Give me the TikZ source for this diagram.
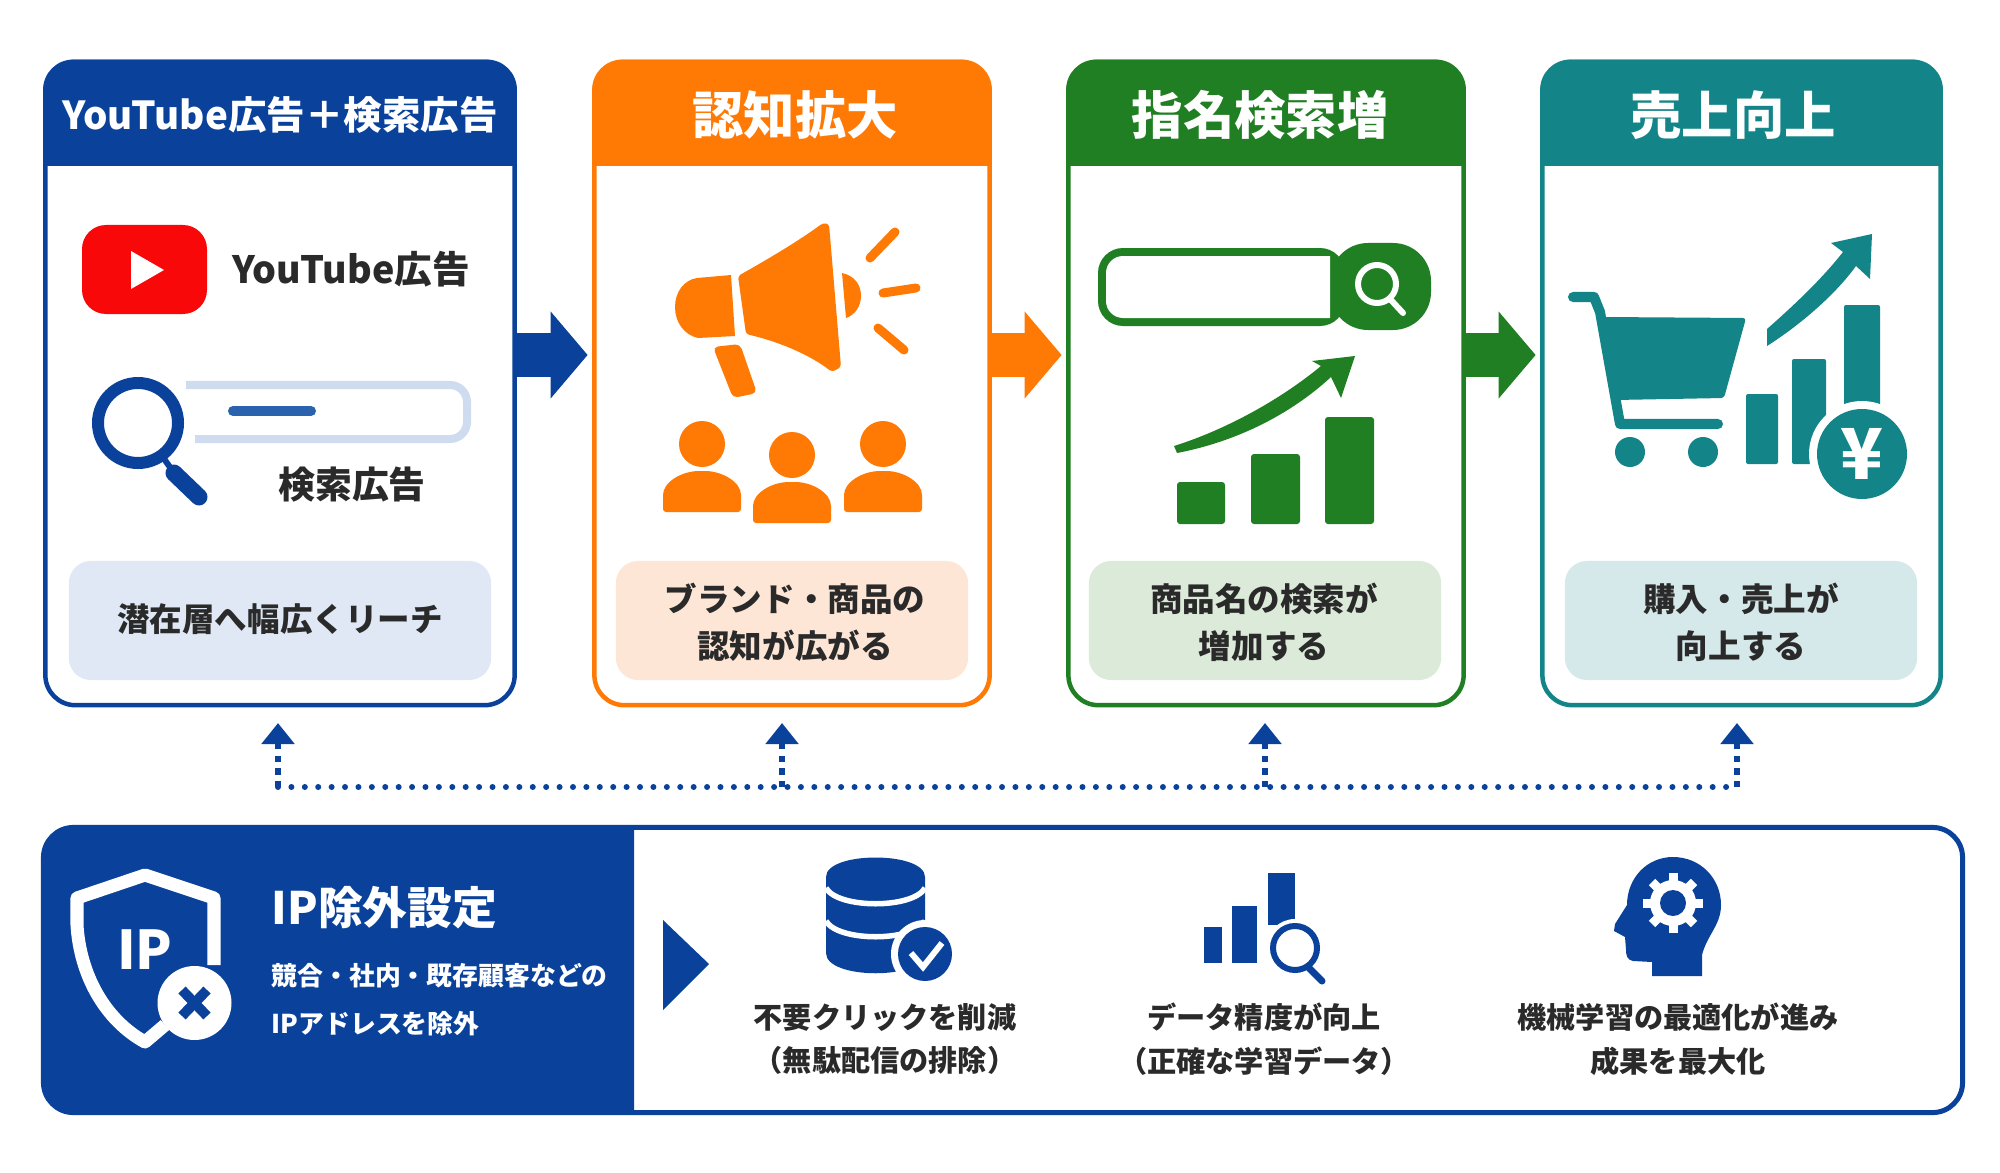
\documentclass[tikz,border=0pt]{standalone}
\usepackage{fontspec}
\setmainfont{Noto Sans CJK JP}
\usetikzlibrary{arrows.meta}
\definecolor{navy}{HTML}{0A429B}
\definecolor{orng}{HTML}{FF7A05}
\definecolor{grn}{HTML}{1F7F22}
\definecolor{teal2}{HTML}{138588}
\definecolor{ytred}{HTML}{F80808}
\definecolor{ink}{HTML}{2A2A2A}
\definecolor{paleblue}{HTML}{E0E8F6}
\definecolor{paleorng}{HTML}{FDE6D6}
\definecolor{palegrn}{HTML}{DCEBD9}
\definecolor{paleteal}{HTML}{D5E9EA}
\definecolor{barblue}{HTML}{CFDCF0}
\definecolor{dashblue}{HTML}{2A62AE}
\tikzset{
  cardbox/.style={rectangle,rounded corners=.3cm,fill=white,line width=.045cm,inner sep=0pt},
  notebox/.style={rectangle,rounded corners=.22cm,inner sep=0pt,minimum height=1.19cm},
  headtext/.style={white,font=\bfseries\fontsize{14.6pt}{16pt}\selectfont},
  bodytext/.style={ink,align=center,font=\bfseries\fontsize{9.25pt}{13.4pt}\selectfont},
  captext/.style={ink,align=center,font=\bfseries\fontsize{8.3pt}{12.5pt}\selectfont},
  bigarrow/.style={line width=.44cm,-{Triangle[length=.37cm,width=.85cm]},shorten >=.045cm},
  feedarrow/.style={navy,line width=.055cm,dash pattern=on .06cm off .065cm,
                    -{Triangle[length=.21cm,width=.32cm]}},
  pics/person/.style={code={
    \fill (0,-68) circle (23);
    \fill[rounded corners=.03cm] (-39,0) -- (-39,-14) .. controls (-39,-30) and (-20,-41) .. (0,-41)
        .. controls (20,-41) and (39,-30) .. (39,-14) -- (39,0) -- cycle;}}
}
% filled top of a card
\newcommand{\cardhead}[2]{\fill[#2] (#1.west |- hline) [rounded corners=.3cm] -- (#1.north west)
    -- (#1.north east) [sharp corners] -- (#1.east |- hline) -- cycle;}
\begin{document}
\begin{tikzpicture}[x=.01cm,y=-.01cm]
\useasboundingbox (0,0) rectangle (2000,1173);
\coordinate (hline) at (0,166);
\coordinate (flowy) at (0,355);

% cards
\begin{scope}[every node/.style={cardbox,minimum height=6.43cm}]
    \node (card1) [draw=navy,minimum width=4.69cm] at (280,383.5) {};
    \node (card2) [draw=orng,minimum width=3.95cm] at (792,383.5) {};
    \node (card3) [draw=grn,minimum width=3.95cm] at (1266,383.5) {};
    \node (card4) [draw=teal2,minimum width=3.98cm] at (1741.5,383.5) {};
\end{scope}
\cardhead{card1}{navy}
\cardhead{card2}{orng}
\cardhead{card3}{grn}
\cardhead{card4}{teal2}
\node (head1) [headtext,font=\bfseries\fontsize{10.95pt}{14pt}\selectfont] at (280,115) {YouTube広告＋検索広告};
\node (head2) [headtext] at (795,115) {認知拡大};
\node (head3) [headtext] at (1260,115) {指名検索増};
\node (head4) [headtext] at (1733,115) {売上向上};

\node (note1) [notebox,fill=paleblue,minimum width=4.22cm] at (280,620.5) {};
\node (note2) [notebox,fill=paleorng,minimum width=3.52cm] at (792,620.5) {};
\node (note3) [notebox,fill=palegrn,minimum width=3.52cm] at (1265,620.5) {};
\node (note4) [notebox,fill=paleteal,minimum width=3.52cm] at (1741,620.5) {};
\node (text1) [bodytext] at (280,619) {潜在層へ幅広くリーチ};
\node (text2) [bodytext] at (795,622) {ブランド・商品の\\認知が広がる};
\node (text3) [bodytext] at (1264,622) {商品名の検索が\\増加する};
\node (text4) [bodytext] at (1741,622) {購入・売上が\\向上する};

% big arrows
\draw[bigarrow,navy] (card1.east |- flowy) -- (card2.west |- flowy);
\draw[bigarrow,orng] (card2.east |- flowy) -- (card3.west |- flowy);
\draw[bigarrow,grn] (card3.east |- flowy) -- (card4.west |- flowy);

% youtube + search ad
\fill[ytred,rounded corners=.24cm] (82,225) rectangle (207,314);
\fill[white] (131,251) -- (164,270) -- (131,289) -- cycle;
\node (ytlabel) [ink,font=\bfseries\fontsize{10.7pt}{12pt}\selectfont] at (351,269) {YouTube広告};
\draw[barblue,line width=.08cm,rounded corners=.17cm] (186,385) -- (467,385) -- (467,439) -- (195,439);
\draw[dashblue,line width=.1cm,line cap=round] (233,411) -- (311,411);
\draw[navy,line width=.12cm] (138,423) circle (40);
\draw[navy,line width=.06cm] (162,456) -- (172,470);
\draw[navy,line width=.17cm,line cap=round] (174,473) -- (199,497);
\node (adlabel) [ink,font=\bfseries\fontsize{10.5pt}{12pt}\selectfont] at (352,485) {検索広告};

% megaphone and people
\begin{scope}[orng]
    \fill[rounded corners=.03cm] (738,276) .. controls (770,258) and (800,240) .. (823,223)
        -- (829,224) -- (841,367) -- (832,372) .. controls (810,355) and (780,342) .. (746,334) -- cycle;
    \fill (731,275) -- (697,278) .. controls (684,280) and (675,292) .. (675,307)
        .. controls (675,322) and (684,335) .. (698,338) -- (735,336) -- cycle;
    \fill (842,273) .. controls (855,276) and (861,285) .. (861,296) .. controls (861,306) and (855,315) .. (846,318) -- cycle;
    \fill[rounded corners=.05cm] (713,347) -- (740,344) -- (757,393) -- (733,398) -- cycle;
    \draw[line width=.09cm,line cap=round] (870,258) -- (895,232);
    \draw[line width=.09cm,line cap=round] (883,293) -- (916,288);
    \draw[line width=.09cm,line cap=round] (878,328) -- (904,350);
    \pic at (702,512) {person};
    \pic at (792,523) {person};
    \pic at (883,512) {person};
\end{scope}

% search bar and rising bars
\begin{scope}[grn]
    \fill[rounded corners=.25cm] (1098,248) rectangle (1345,326);
    \fill[rounded corners=.38cm] (1330,243) rectangle (1431,330);
    \fill[white] (1330,256) -- (1125,256) [rounded corners=.17cm] -- (1106,256) -- (1106,318) [sharp corners] -- (1330,318) -- cycle;
    \draw[white,line width=.06cm] (1377,284) circle (19);
    \draw[white,line width=.06cm,line cap=round] (1390,299) -- (1403,313);
    \fill (1174,446) .. controls (1225,430) and (1280,400) .. (1321,366) -- (1312,361) -- (1355,356)
        -- (1341,398) -- (1331,377) .. controls (1290,415) and (1235,442) .. (1177,453) -- cycle;
    \fill[rounded corners=.03cm] (1177,482) rectangle (1225,524);
    \fill[rounded corners=.03cm] (1251,454) rectangle (1300,524);
    \fill[rounded corners=.03cm] (1325,417) rectangle (1374,524);
\end{scope}

% cart, bars and yen
\begin{scope}[teal2]
    \draw[line width=.1cm,line cap=round,line join=round] (1573,297) -- (1594,297) -- (1600,312) -- (1620,424) -- (1718,424);
    \fill[rounded corners=.03cm] (1603,317) -- (1746,318) -- (1724,398) -- (1615,400) -- cycle;
    \fill (1630,452) circle (15);
    \fill (1703,452) circle (15);
    \fill[rounded corners=.02cm] (1746,394) rectangle (1778,464);
    \fill[rounded corners=.02cm] (1792,359) rectangle (1826,464);
    \fill[rounded corners=.02cm] (1844,305) rectangle (1880,420);
    \fill (1767,329) .. controls (1800,300) and (1825,275) .. (1843,252) -- (1831,243) -- (1872,234)
        -- (1870,279) -- (1856,266) .. controls (1835,295) and (1800,325) .. (1767,346) -- cycle;
    \fill[white] (1862,454) circle (53);
    \fill (1862,454) circle (45);
\end{scope}
\node (yen) [white,font=\bfseries\fontsize{20pt}{22pt}\selectfont] at (1862,454) {¥};

% dotted feedback lines
\coordinate (bus1) at (278,787);
\coordinate (bus2) at (782,787);
\coordinate (bus3) at (1265,787);
\coordinate (bus4) at (1737,787);
\coordinate (up1) at (278,723);
\coordinate (up2) at (782,723);
\coordinate (up3) at (1265,723);
\coordinate (up4) at (1737,723);
\draw[navy,line width=.06cm,line cap=round,dash pattern=on 0cm off .134cm] (bus1) -- (bus4);
\draw[feedarrow] (bus1) -- (up1);
\draw[feedarrow] (bus2) -- (up2);
\draw[feedarrow] (bus3) -- (up3);
\draw[feedarrow] (bus4) -- (up4);

% IP panel
\node (panel) [rectangle,rounded corners=.3cm,draw=navy,fill=white,line width=.05cm,inner sep=0pt,
    minimum width=19.18cm,minimum height=2.85cm] at (1003,970) {};
\fill[navy] (634,826) -- (634,1114) [rounded corners=.3cm] -- (43,1114) -- (43,826) [sharp corners] -- cycle;
\draw[white,line width=.13cm,line join=round] (214,965) -- (214,898) -- (145,875) -- (77,898) -- (77,925)
    .. controls (80,975) and (105,1020) .. (145,1042) -- (165,1025);
\fill[white] (194.5,1003) circle (37);
\draw[navy,line width=.1cm] (182,990) -- (207,1016);
\draw[navy,line width=.1cm] (207,990) -- (182,1016);
\node (iplabel) [white,font=\bfseries\fontsize{15.2pt}{18pt}\selectfont] at (145,950) {IP};
\node (iptitle) [white,anchor=west,inner sep=0pt,font=\bfseries\fontsize{12.7pt}{14pt}\selectfont] at (271,908) {IP除外設定};
\node (iptext) [white,anchor=west,inner sep=0pt,align=left,font=\bfseries\fontsize{7.35pt}{13.6pt}\selectfont] at (271,1000) {競合・社内・既存顧客などの\\IPアドレスを除外};
\fill[navy] (663,920) -- (709,964) -- (663,1010) -- cycle;

% database
\fill[navy] (826,877) .. controls (826,851) and (925,851) .. (925,877) -- (925,953)
    .. controls (925,980) and (826,980) .. (826,953) -- cycle;
\draw[white,line width=.055cm] (826,888) .. controls (838,909) and (913,909) .. (925,888);
\draw[white,line width=.055cm] (826,921) .. controls (838,942) and (913,942) .. (925,921);
\fill[white] (925,954) circle (34);
\fill[navy] (925,954) circle (27);
\draw[white,line width=.06cm] (911,953) -- (923,967) -- (942,943);

% chart with lens
\fill[navy] (1204,927) rectangle (1222,963);
\fill[navy] (1232,906) rectangle (1257,963);
\fill[navy] (1268,873) rectangle (1295,925);
\fill[white] (1295,948) circle (29);
\draw[navy,line width=.06cm] (1295,948) circle (22);
\draw[navy,line width=.07cm,line cap=round] (1309,968) -- (1322,981);

% head with gear
\fill[navy] (1673,857) .. controls (1700,857) and (1721,878) .. (1721,905)
    .. controls (1721,925) and (1707,935) .. (1702,955) -- (1702,976) -- (1652,976) -- (1652,962)
    -- (1633,961) .. controls (1627,960) and (1626,955) .. (1626,950) -- (1625,937) -- (1614,931)
    -- (1615,924) -- (1627,905) .. controls (1627,878) and (1647,857) .. (1673,857);
\draw[white,line width=.09cm] (1673,873) -- (1673,933);
\draw[white,line width=.09cm] (1643,903) -- (1703,903);
\draw[white,line width=.09cm] (1652,882) -- (1694,924);
\draw[white,line width=.09cm] (1652,924) -- (1694,882);
\fill[white] (1673,903) circle (23);
\fill[navy] (1673,903) circle (13);

\node (cap1) [captext] at (885,1039) {不要クリックを削減\\（無駄配信の排除）};
\node (cap2) [captext] at (1264,1039) {データ精度が向上\\（正確な学習データ）};
\node (cap3) [captext] at (1678,1039) {機械学習の最適化が進み\\成果を最大化};
\end{tikzpicture}
\end{document}
